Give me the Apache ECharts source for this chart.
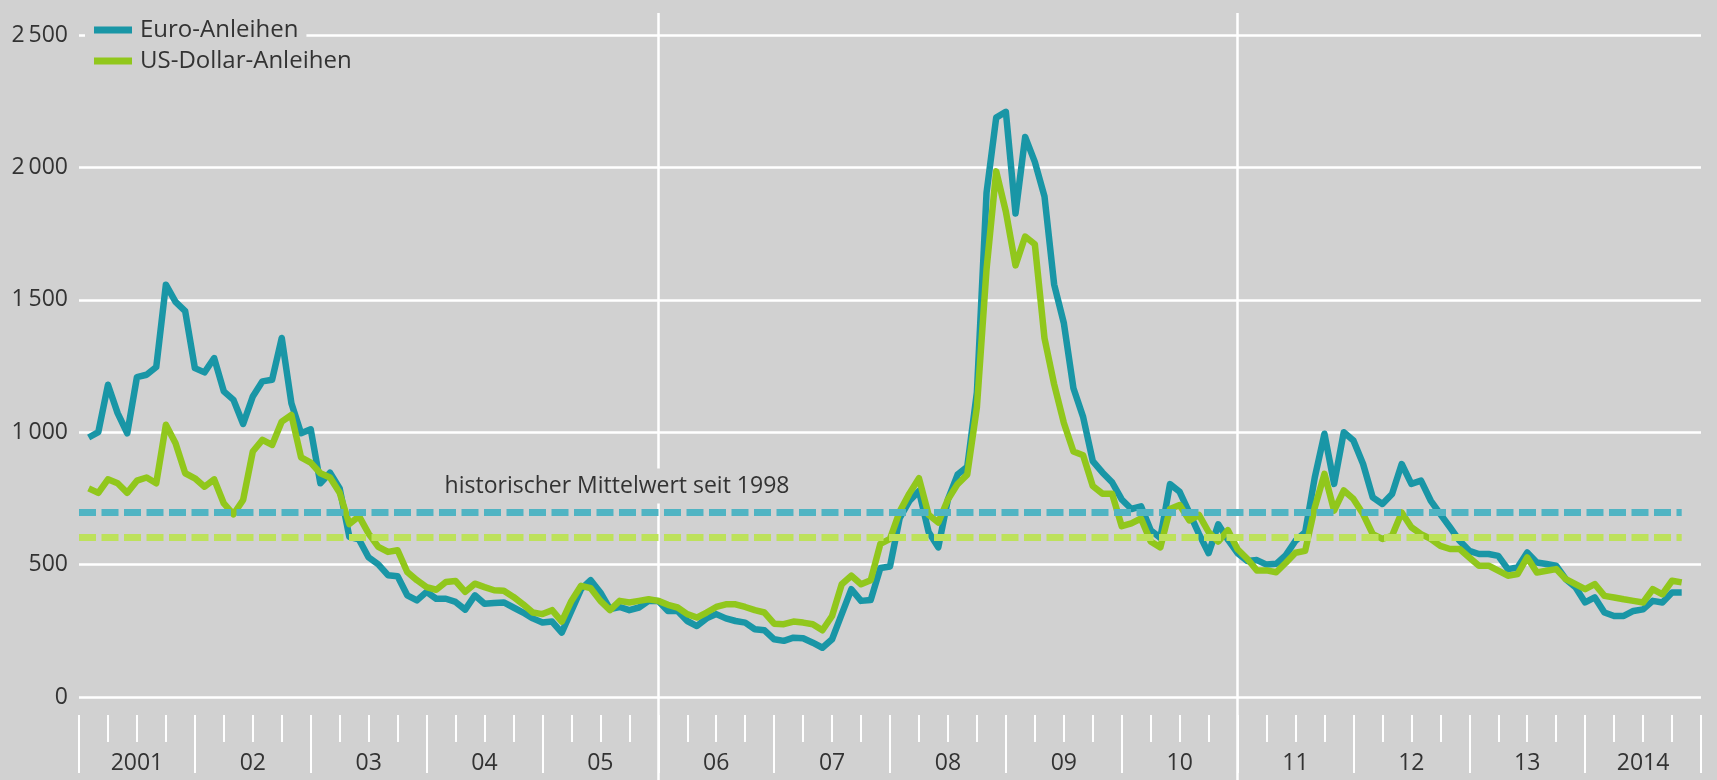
<!DOCTYPE html>
<html>
<head>
<meta charset="utf-8">
<script src="https://cdn.jsdelivr.net/npm/echarts@6.0.0/dist/echarts.min.js"></script>
<style>
html,body{margin:0;padding:0;background:#d1d1d1;}
#chart{width:1717px;height:780px;}
</style>
</head>
<body>
<div id="chart"></div>
<script>
// ---- data (monthly, Jan 2001 .. Oct 2014) ----
const yearLabels = ['2001','02','03','04','05','06','07','08','09','10','11','12','13','2014'];
const monthsOnAxis = 168;

const euroSpreads = [
  980, 1000, 1179, 1072, 996, 1208, 1217, 1246, 1557, 1492, 1457, 1242,
  1226, 1280, 1154, 1122, 1031, 1135, 1192, 1198, 1356, 1109, 996, 1011,
  807, 847, 788, 605, 595, 527, 501, 460, 456, 384, 365, 397,
  371, 371, 359, 330, 384, 352, 355, 357, 338, 319, 297, 281,
  285, 243, 325, 407, 441, 395, 332, 340, 328, 338, 363, 363,
  325, 325, 287, 268, 297, 313, 297, 287, 281, 256, 252, 218,
  212, 224, 222, 205, 186, 218, 313, 407, 363, 366, 487, 493,
  675, 740, 778, 623, 565, 746, 840, 869, 1150, 1905, 2188, 2210,
  1826, 2115, 2021, 1891, 1558, 1413, 1166, 1058, 891, 848, 811, 746,
  710, 720, 630, 601, 804, 775, 696, 616, 543, 652, 594, 543,
  514, 517, 500, 503, 536, 590, 622, 830, 994, 805, 1000, 969,
  880, 754, 729, 767, 880, 805, 817, 742, 691, 641, 590, 552,
  540, 540, 533, 483, 489, 546, 508, 502, 496, 445, 414, 357,
  376, 319, 306, 306, 325, 331, 363, 357, 395, 395
];

const usdSpreads = [
  788, 771, 822, 807, 771, 817, 829, 807, 1028, 958, 845, 826,
  794, 822, 731, 690, 744, 927, 971, 952, 1040, 1065, 905, 885,
  845, 829, 771, 653, 683, 617, 567, 548, 554, 472, 441, 415,
  405, 434, 438, 397, 428, 415, 403, 401, 378, 350, 319, 313,
  328, 285, 363, 420, 411, 363, 328, 363, 357, 363, 369, 363,
  348, 338, 313, 300, 319, 340, 350, 350, 340, 328, 319, 277,
  275, 285, 281, 275, 252, 306, 426, 458, 426, 441, 578, 597,
  700, 768, 826, 688, 659, 746, 804, 840, 1094, 1616, 1985, 1833,
  1630, 1739, 1710, 1355, 1181, 1036, 927, 913, 797, 768, 768, 645,
  656, 674, 587, 565, 710, 725, 667, 688, 623, 587, 630, 558,
  522, 478, 478, 471, 507, 545, 552, 716, 843, 704, 780, 748,
  691, 615, 597, 609, 697, 641, 615, 597, 571, 559, 559, 527,
  496, 496, 477, 458, 464, 527, 470, 477, 483, 445, 426, 407,
  426, 382, 376, 369, 363, 357, 407, 388, 439, 433
];

const euroMean = 698;
const usdMean = 604;
const meanLabel = 'historischer Mittelwert seit 1998';
const seriesNames = ['Euro-Anleihen', 'US-Dollar-Anleihen'];

// ---- styles ----
const BG = '#d1d1d1';
const TEAL = '#1996a6';
const GREEN = '#91c71c';
const TEAL_DASH = '#50b4c3';
const GREEN_DASH = '#bde15b';
const TXT = '#333333';
const FONT = "'Open Sans', 'Noto Sans', sans-serif";

const toPairs = arr => arr.map((v, i) => [i + 1, v]);
const lastX = euroSpreads.length;
const fmtY = v => v >= 1000 ? String(v).replace(/(\d)(\d{3})$/, '$1\u2009$2') : String(v);

const chart = echarts.init(document.getElementById('chart'), null, {renderer: 'canvas'});

const legendBase = {
  orient: 'vertical', left: 85, icon: 'rect', itemWidth: 38, itemHeight: 7,
  selectedMode: false,
  textStyle: {fontFamily: FONT, fontSize: 24, color: TXT, lineHeight: 28, padding: [0, 0, 0, 3]}
};

chart.setOption({
  backgroundColor: BG,
  animation: false,
  textStyle: {fontFamily: FONT},
  grid: [
    {left: 79, right: 16, top: 35, bottom: 83},
    {left: 79, right: 16, top: 13, bottom: 0}
  ],
  legend: [
    Object.assign({}, legendBase, {data: [seriesNames[0]], top: 12, padding: [4, 8, 2, 9], backgroundColor: BG}),
    Object.assign({}, legendBase, {data: [seriesNames[1]], top: 43, padding: [4, 8, 2, 9]})
  ],
  xAxis: [
    {
      gridIndex: 0, type: 'value', min: 0, max: monthsOnAxis, interval: 12, offset: 18,
      position: 'bottom',
      axisLine: {show: false, onZero: false},
      axisTick: {show: true, length: 58, lineStyle: {color: '#fff', width: 2}},
      minorTick: {show: true, splitNumber: 4, length: 27, lineStyle: {color: '#fff', width: 2}},
      axisLabel: {show: false},
      splitLine: {show: false}
    },
    {
      gridIndex: 0, type: 'category', data: yearLabels, position: 'bottom', offset: 18,
      axisLine: {show: false, onZero: false}, axisTick: {show: false}, splitLine: {show: false},
      axisLabel: {margin: 37, fontSize: 23, color: TXT, fontFamily: FONT}
    },
    {
      gridIndex: 1, type: 'value', min: 0, max: monthsOnAxis, interval: 60,
      axisLine: {show: false, onZero: false}, axisTick: {show: false}, axisLabel: {show: false},
      splitLine: {show: true, showMinLine: false, showMaxLine: false, lineStyle: {color: '#fff', width: 2.5}}
    }
  ],
  yAxis: [
    {
      gridIndex: 0, type: 'value', min: 0, max: 2500, interval: 500,
      axisLine: {show: false}, axisTick: {show: false},
      axisLabel: {margin: 11, fontSize: 23, color: TXT, fontFamily: FONT, formatter: fmtY},
      splitLine: {show: true, lineStyle: {color: '#fff', width: 2.5}}
    },
    {gridIndex: 1, type: 'value', min: 0, max: 1, show: false}
  ],
  series: [
    {
      name: 'mean', type: 'line', data: [], xAxisIndex: 0, yAxisIndex: 0, z: 1, silent: true,
      markLine: {
        symbol: 'none', silent: true, label: {show: false},
        data: [
          [{coord: [0, euroMean], lineStyle: {color: TEAL_DASH, width: 7, type: [17, 5.5]}}, {coord: [lastX, euroMean]}],
          [{coord: [0, usdMean], lineStyle: {color: GREEN_DASH, width: 7, type: [17, 5.5]}}, {coord: [lastX, usdMean]}]
        ]
      },
      markPoint: {
        symbol: 'rect', symbolSize: 1, silent: true, itemStyle: {color: 'rgba(0,0,0,0)'},
        data: [{coord: [37.4, 797], value: 0}],
        label: {
          show: true, position: 'right', distance: 0, formatter: meanLabel,
          fontFamily: FONT, fontSize: 23, color: TXT, backgroundColor: BG,
          padding: [0, 4], lineHeight: 35
        }
      }
    },
    {
      name: seriesNames[0], type: 'line', xAxisIndex: 0, yAxisIndex: 0, z: 3,
      data: toPairs(euroSpreads), symbol: 'none', showSymbol: false,
      color: TEAL, itemStyle: {color: TEAL},
      lineStyle: {color: TEAL, width: 6.5, join: 'round'}
    },
    {
      name: seriesNames[1], type: 'line', xAxisIndex: 0, yAxisIndex: 0, z: 4,
      data: toPairs(usdSpreads), symbol: 'none', showSymbol: false,
      color: GREEN, itemStyle: {color: GREEN},
      lineStyle: {color: GREEN, width: 6.5, join: 'round'}
    }
  ]
});
</script>
</body>
</html>
